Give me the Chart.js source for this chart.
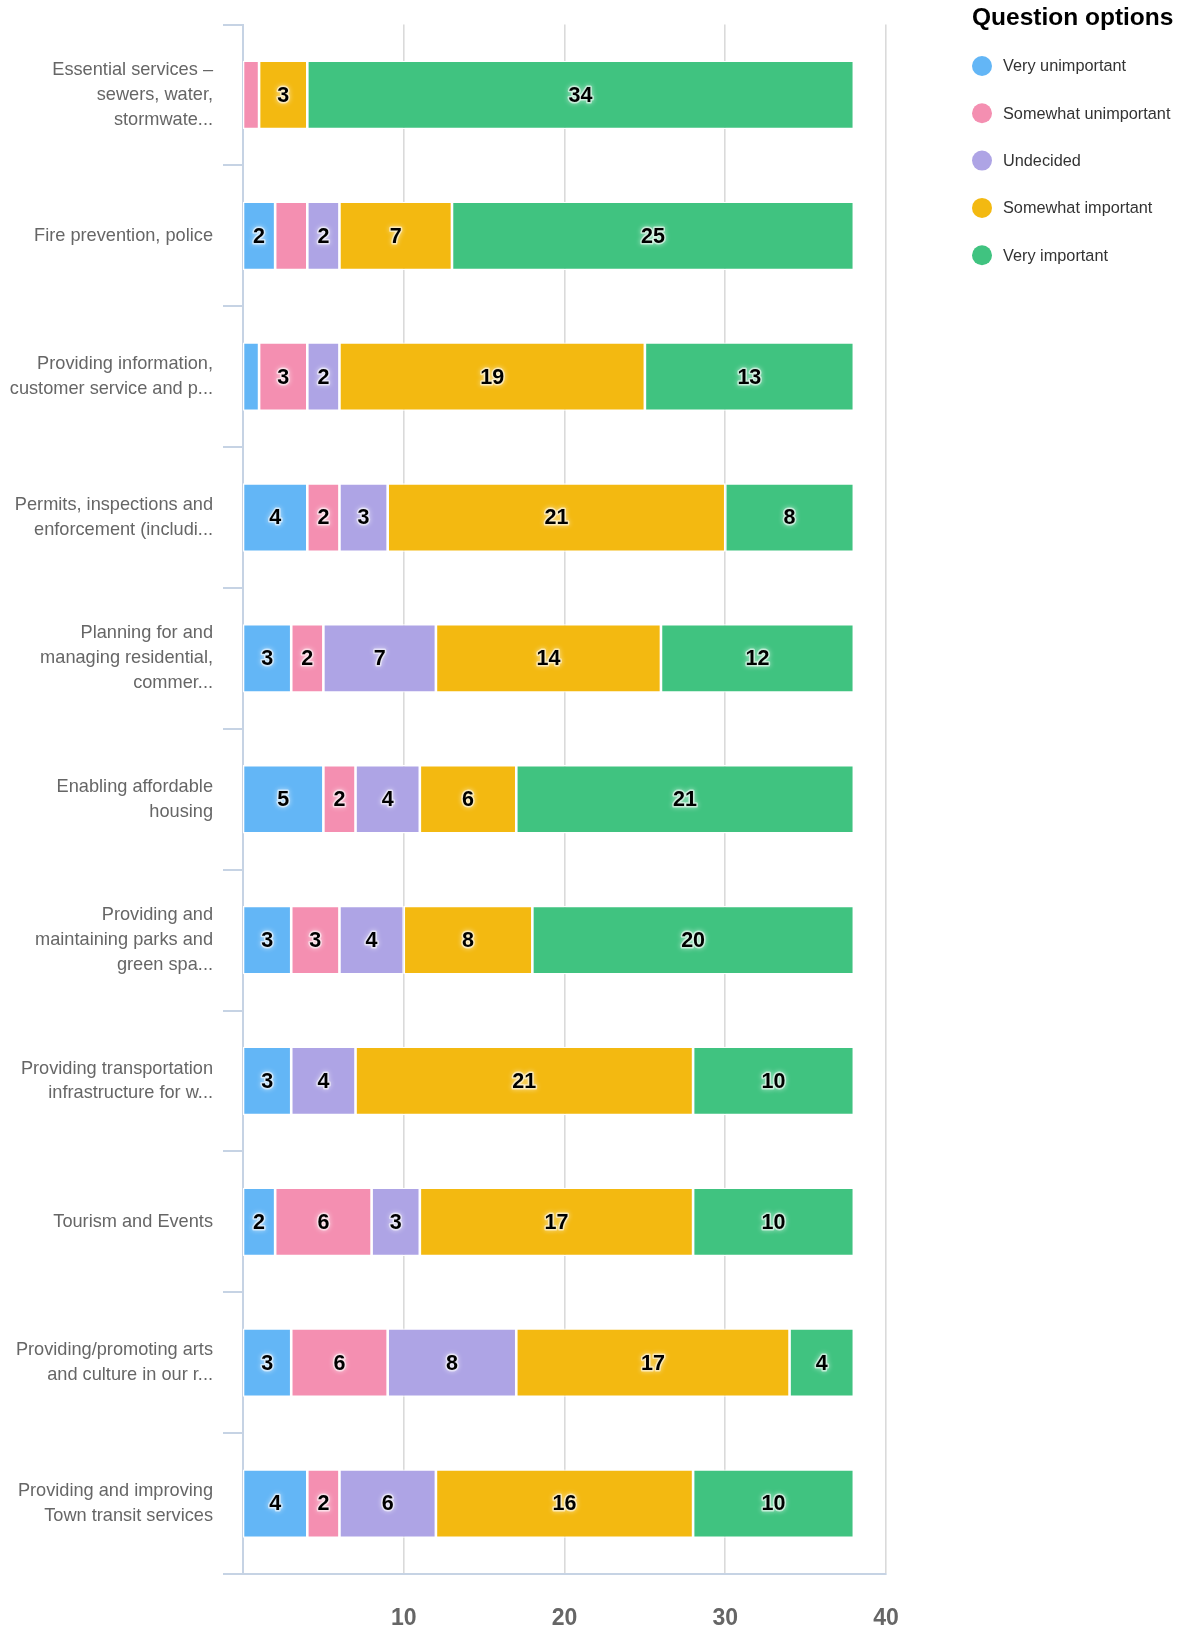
<!DOCTYPE html>
<html><head><meta charset="utf-8">
<script src="https://cdn.jsdelivr.net/npm/chart.js@4/dist/chart.umd.min.js"></script>
<style>html,body{margin:0;padding:0;background:#fff}#wrap{width:1179px;height:1629px;position:relative}canvas{display:block}</style>
</head><body><div id="wrap"><canvas id="c" width="1179" height="1629"></canvas></div>
<script>
const categories = [
  ['Essential services \u2013', 'sewers, water,', 'stormwate...'],
  'Fire prevention, police',
  ['Providing information,', 'customer service and p...'],
  ['Permits, inspections and', 'enforcement (includi...'],
  ['Planning for and', 'managing residential,', 'commer...'],
  ['Enabling affordable', 'housing'],
  ['Providing and', 'maintaining parks and', 'green spa...'],
  ['Providing transportation', 'infrastructure for w...'],
  'Tourism and Events',
  ['Providing/promoting arts', 'and culture in our r...'],
  ['Providing and improving', 'Town transit services']
];
const seriesNames = ['Very unimportant', 'Somewhat unimportant', 'Undecided', 'Somewhat important', 'Very important'];
const veryUnimportant     = [0, 2, 1, 4, 3, 5, 3, 3, 2, 3, 4];
const somewhatUnimportant = [1, 2, 3, 2, 2, 2, 3, 0, 6, 6, 2];
const undecided           = [0, 2, 2, 3, 7, 4, 4, 4, 3, 8, 6];
const somewhatImportant   = [3, 7, 19, 21, 14, 6, 8, 21, 17, 17, 16];
const veryImportant       = [34, 25, 13, 8, 12, 21, 20, 10, 10, 4, 10];
const xTicks = [10, 20, 30, 40];
const legendTitle = 'Question options';
const hiddenLabels = [[1, 1]]; // [series index, category index] labels not shown in the original
const seriesColors = ['#63B6F6', '#F48FB1', '#AEA4E5', '#F3B911', '#40C380'];

const seriesData = [veryUnimportant, somewhatUnimportant, undecided, somewhatImportant, veryImportant];
const FAM = '"Liberation Sans", Arial, Helvetica, sans-serif';

const labelPlugin = {
  id: 'segLabels',
  afterDatasetsDraw(chart) {
    const ctx = chart.ctx;
    ctx.save();
    ctx.font = 'bold 21.5px ' + FAM;
    ctx.textAlign = 'center';
    ctx.textBaseline = 'middle';
    chart.data.datasets.forEach((ds, di) => {
      const meta = chart.getDatasetMeta(di);
      meta.data.forEach((bar, i) => {
        const v = ds.data[i];
        if (v < 2) return;
        if (hiddenLabels.some(h => h[0] === di && h[1] === i)) return;
        const p = bar.getCenterPoint();
        const t = String(v);
        ctx.shadowColor = 'rgba(255,255,255,1)';
        ctx.shadowBlur = 5;
        ctx.lineJoin = 'round';
        ctx.lineWidth = 3;
        ctx.strokeStyle = 'rgba(255,255,255,0.55)';
        ctx.strokeText(t, p.x, p.y + 1);
        ctx.shadowBlur = 0;
        ctx.fillStyle = '#000';
        ctx.fillText(t, p.x, p.y + 1);
      });
    });
    ctx.restore();
  }
};

const legendPlugin = {
  id: 'sideLegend',
  afterDraw(chart) {
    const ctx = chart.ctx;
    const x0 = chart.chartArea.right + 86;
    ctx.save();
    ctx.textAlign = 'left';
    ctx.textBaseline = 'middle';
    ctx.font = 'bold 24.5px ' + FAM;
    ctx.fillStyle = '#000';
    ctx.fillText(legendTitle, x0, 18);
    chart.data.datasets.forEach((ds, i) => {
      const y = 66 + i * 47.3;
      ctx.beginPath();
      ctx.arc(x0 + 10, y, 10, 0, Math.PI * 2);
      ctx.fillStyle = ds.backgroundColor;
      ctx.fill();
      ctx.font = '16.3px ' + FAM;
      ctx.fillStyle = '#333';
      ctx.fillText(ds.label, x0 + 31, y + 1);
    });
    ctx.restore();
  }
};

new Chart(document.getElementById('c'), {
  type: 'bar',
  data: {
    labels: categories,
    datasets: seriesNames.map((n, i) => ({
      label: n,
      data: seriesData[i],
      backgroundColor: seriesColors[i],
      borderColor: '#ffffff',
      borderWidth: 1.3,
      borderSkipped: false,
      categoryPercentage: 1,
      barPercentage: 0.485
    }))
  },
  options: {
    indexAxis: 'y',
    responsive: false,
    animation: false,
    layout: { padding: { top: 24.5, right: 293, bottom: 0, left: 0 } },
    plugins: { legend: { display: false }, tooltip: { enabled: false } },
    scales: {
      x: {
        stacked: true,
        min: 0,
        max: 40,
        afterBuildTicks: s => { s.ticks = xTicks.map(v => ({ value: v })); },
        ticks: { font: { family: FAM, size: 23, weight: 'bold' }, color: '#666', padding: 31, maxRotation: 0 },
        grid: { color: '#dadada', lineWidth: 1.6, drawTicks: false },
        border: { color: '#c6d3e4', width: 2 },
        afterFit: s => { s.height = 55; s.paddingLeft = 0; }
      },
      y: {
        stacked: true,
        ticks: { font: { family: FAM, size: 18.2, lineHeight: 1.37 }, color: '#666', padding: 10, autoSkip: false },
        grid: { drawOnChartArea: false, drawTicks: true, tickLength: 20, color: '#c6d3e4', lineWidth: 2 },
        border: { color: '#c6d3e4', width: 2 },
        afterFit: s => { s.width = 243; s.paddingTop = 0; s.paddingBottom = 0; }
      }
    }
  },
  plugins: [labelPlugin, legendPlugin]
});
</script>
</body></html>
